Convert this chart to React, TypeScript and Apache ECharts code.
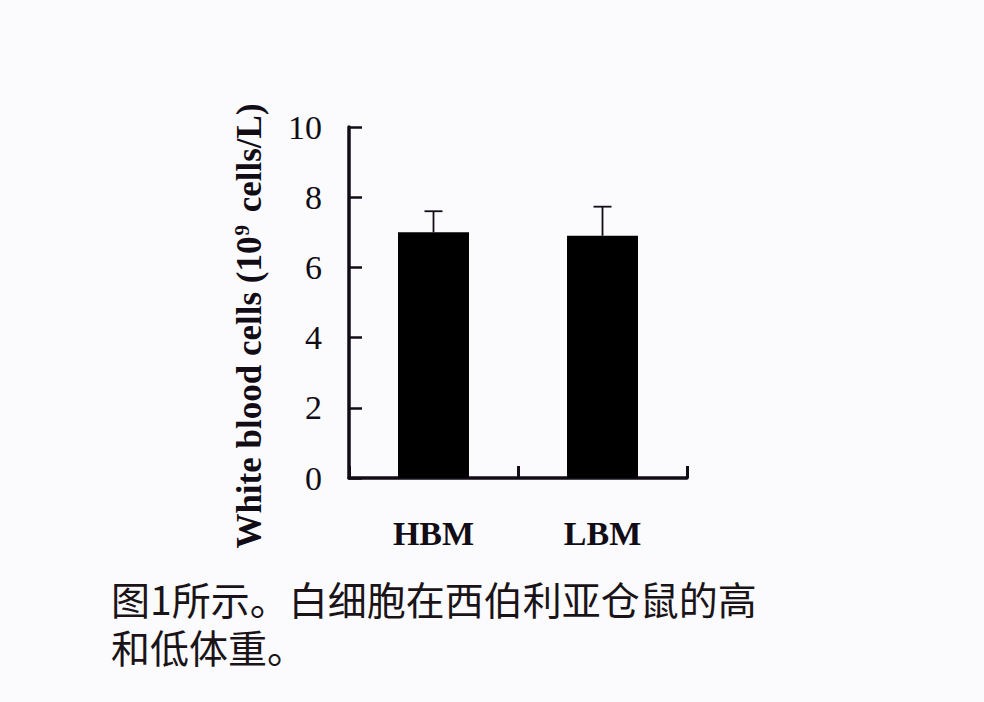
import { useEffect, useRef } from 'react';
import * as echarts from 'echarts';

const categories = ['HBM', 'LBM'];
const means = [7.0, 6.9];
const errors = [0.6, 0.83];
const yTicks = [0, 2, 4, 6, 8, 10];
const yTitle = ['White blood cells (10', '9', ' cells/L)'];
const captionLines = ['图1所示。白细胞在西伯利亚仓鼠的高', '和低体重。'];

const SERIF = '"Liberation Serif", "Times New Roman", serif';
const CJK = '"Noto Sans CJK SC", "Noto Sans", sans-serif';
const INK = '#120c16';

export default function App() {
  const ref = useRef<HTMLDivElement | null>(null);

  useEffect(() => {
    document.body.style.margin = '0';
    if (!ref.current) return;
    const chart = echarts.init(ref.current, undefined, { renderer: 'svg' });

    chart.setOption({
      animation: false,
      backgroundColor: '#fbfbfd',
      grid: { left: 349, right: 297, top: 127, bottom: 224 },
      xAxis: {
        type: 'category',
        data: categories,
        boundaryGap: true,
        axisLine: { lineStyle: { color: INK, width: 3.5 } },
        axisTick: {
          show: true,
          interval: 0,
          alignWithLabel: false,
          inside: true,
          length: 12,
          lineStyle: { color: INK, width: 3 },
        },
        axisLabel: {
          margin: 38,
          color: INK,
          fontFamily: SERIF,
          fontWeight: 'bold',
          fontSize: 34,
        },
      },
      yAxis: {
        type: 'value',
        min: yTicks[0],
        max: yTicks[yTicks.length - 1],
        interval: 2,
        splitLine: { show: false },
        axisLine: { show: true, lineStyle: { color: INK, width: 3.5 } },
        axisTick: { show: true, inside: true, length: 13, lineStyle: { color: INK, width: 2.5 } },
        axisLabel: {
          margin: 27,
          color: INK,
          fontFamily: SERIF,
          fontSize: 34,
        },
      },
      series: [
        {
          type: 'bar',
          data: means,
          barWidth: '42%',
          itemStyle: { color: '#000' },
          z: 2,
        },
        {
          type: 'custom',
          z: 1,
          data: means.map((m, i) => [i, m, m + errors[i]]),
          renderItem: (_params: any, api: any) => {
            const base = api.coord([api.value(0), api.value(1)]);
            const top = api.coord([api.value(0), api.value(2)]);
            const half = 9;
            return {
              type: 'group',
              children: [
                {
                  type: 'line',
                  shape: { x1: base[0], y1: base[1], x2: top[0], y2: top[1] },
                  style: { stroke: INK, lineWidth: 1.8 },
                },
                {
                  type: 'line',
                  shape: { x1: top[0] - half, y1: top[1], x2: top[0] + half, y2: top[1] },
                  style: { stroke: INK, lineWidth: 1.8 },
                },
              ],
            };
          },
        },
      ],
      graphic: [
        {
          type: 'text',
          x: 249,
          y: 326,
          rotation: Math.PI / 2,
          style: {
            text: `{t|${yTitle[0]}}{s|${yTitle[1]}}{t|${yTitle[2]}}`,
            align: 'center',
            verticalAlign: 'middle',
            rich: {
              t: { fontFamily: SERIF, fontWeight: 'bold', fontSize: 35, fill: INK, lineHeight: 36 },
              s: {
                fontFamily: SERIF,
                fontWeight: 'bold',
                fontSize: 21,
                fill: INK,
                lineHeight: 36,
                verticalAlign: 'top',
                padding: [0, 4, 14, 1],
              },
            },
          },
        },
        {
          type: 'text',
          left: 111,
          top: 574,
          style: {
            text: captionLines.join('\n'),
            fontFamily: CJK,
            fontSize: 39,
            lineHeight: 48,
            fill: '#1a1418',
          },
        },
      ],
    });

    const handleResize = () => chart.resize();
    window.addEventListener('resize', handleResize);
    return () => {
      window.removeEventListener('resize', handleResize);
      chart.dispose();
    };
  }, []);

  return <div ref={ref} style={{ width: 984, height: 702 }} />;
}
